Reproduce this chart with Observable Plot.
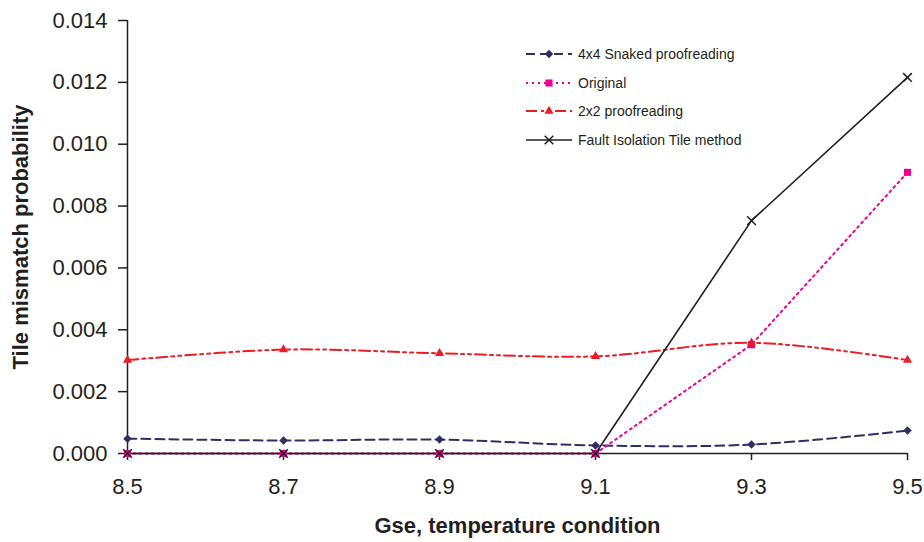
<!DOCTYPE html>
<html><head><meta charset="utf-8">
<script src="https://cdn.jsdelivr.net/npm/d3@7"></script>
<script src="https://cdn.jsdelivr.net/npm/@observablehq/plot@0.6"></script>
<style>
body{margin:0;background:#fff;font-family:"Liberation Sans",Arial,sans-serif;}
#wrap{position:relative;width:924px;height:542px;}
g[aria-label="x-axis label"] text, g[aria-label="y-axis label"] text{font-weight:bold;}
#legend{position:absolute;left:524px;top:40px;font-size:14px;color:#231F20;}
.row{display:flex;align-items:center;height:28.5px;white-space:nowrap;}
.row svg{margin-right:4px;}
</style></head><body><div id="wrap"><div id="legend"></div></div>
<script>
const xValues = [8.5, 8.7, 8.9, 9.1, 9.3, 9.5];
const seriesNames = ["4x4 Snaked proofreading", "Original", "2x2 proofreading", "Fault Isolation Tile method"];
const snaked = [0.00048, 0.00042, 0.00045, 0.00026, 0.00029, 0.00074];
const original = [0, 0, 0, 0, 0.00352, 0.00909];
const proof2x2 = [0.00302, 0.00336, 0.00324, 0.00314, 0.00358, 0.00302];
const faultIso = [0, 0, 0, 0, 0.00753, 0.01216];
const xTicks = [8.5, 8.7, 8.9, 9.1, 9.3, 9.5];
const yTicks = [0, 0.002, 0.004, 0.006, 0.008, 0.010, 0.012, 0.014];

const values = [snaked, original, proof2x2, faultIso];
const styles = [
  {color: "#2E2E66", dash: "9,5", curve: "catmull-rom", symbol: "square", rotate: 45, r: 3.4, fill: true, width: 2},
  {color: "#EC008C", dash: "2,4", curve: "linear", symbol: "square", rotate: 0, r: 4, fill: true, width: 2},
  {color: "#ED1C24", dash: "11,4,3,4,3,4", curve: "catmull-rom", symbol: "triangle", rotate: 0, r: 3.4, fill: true, width: 2},
  {color: "#231F20", dash: null, curve: "linear", symbol: "times", rotate: 0, r: 4, fill: false, width: 1.6}
];

const lineMarks = [], dotMarks = [];
seriesNames.forEach((name, i) => {
  const data = xValues.map((x, j) => ({x, y: values[i][j], series: name}));
  const s = styles[i];
  lineMarks.push(Plot.line(data, {x: "x", y: "y", stroke: s.color, strokeWidth: s.width, strokeDasharray: s.dash, curve: s.curve}));
  dotMarks.push(Plot.dot(data, s.fill
    ? {x: "x", y: "y", symbol: () => s.symbol, r: s.r, fill: s.color, stroke: "none", rotate: s.rotate}
    : {x: "x", y: "y", symbol: () => s.symbol, r: s.r, stroke: s.color, strokeWidth: 1.5, fill: "none"}));
});

const chart = Plot.plot({
  width: 924, height: 542,
  marginLeft: 127, marginRight: 17, marginTop: 20, marginBottom: 89,
  style: {fontFamily: "'Liberation Sans', Arial, sans-serif", color: "#231F20", background: "#fff"},
  x: {domain: [8.5, 9.5]},
  y: {domain: [0, 0.014]},
  symbol: {type: "identity"},
  marks: [
    Plot.axisX({ticks: xTicks, tickFormat: d => d.toFixed(1), tickSize: 7, tickPadding: 18, fontSize: 22, strokeWidth: 1.5,
      label: "Gse, temperature condition", labelAnchor: "center", labelOffset: 79.5, labelArrow: "none"}),
    Plot.axisY({ticks: yTicks, tickFormat: d => d.toFixed(3), tickSize: 9, tickPadding: 11, fontSize: 22, strokeWidth: 1.5,
      label: "Tile mismatch probability", labelAnchor: "center", labelOffset: 115, labelArrow: "none"}),
    Plot.ruleY([0], {stroke: "#231F20", strokeWidth: 1.5}),
    Plot.ruleX([8.5], {stroke: "#231F20", strokeWidth: 1.5}),
    ...lineMarks,
    ...dotMarks
  ]
});
document.getElementById("wrap").prepend(chart);

// legend
const legend = d3.select("#legend");
seriesNames.forEach((name, i) => {
  const s = styles[i];
  const row = legend.append("div").attr("class", "row");
  const svg = row.append("svg").attr("width", 50).attr("height", 14);
  svg.append("line").attr("x1", 2).attr("x2", 48).attr("y1", 7).attr("y2", 7)
    .attr("stroke", s.color).attr("stroke-width", s.width).attr("stroke-dasharray", s.dash);
  const symType = {square: d3.symbolSquare, triangle: d3.symbolTriangle, times: d3.symbolTimes}[s.symbol];
  svg.append("path").attr("d", d3.symbol(symType, Math.PI * s.r * s.r)())
    .attr("transform", `translate(25,7) rotate(${s.rotate})`)
    .attr("fill", s.fill ? s.color : "none").attr("stroke", s.fill ? "none" : s.color).attr("stroke-width", 1.5);
  row.append("span").text(name);
});
</script>
</body></html>
